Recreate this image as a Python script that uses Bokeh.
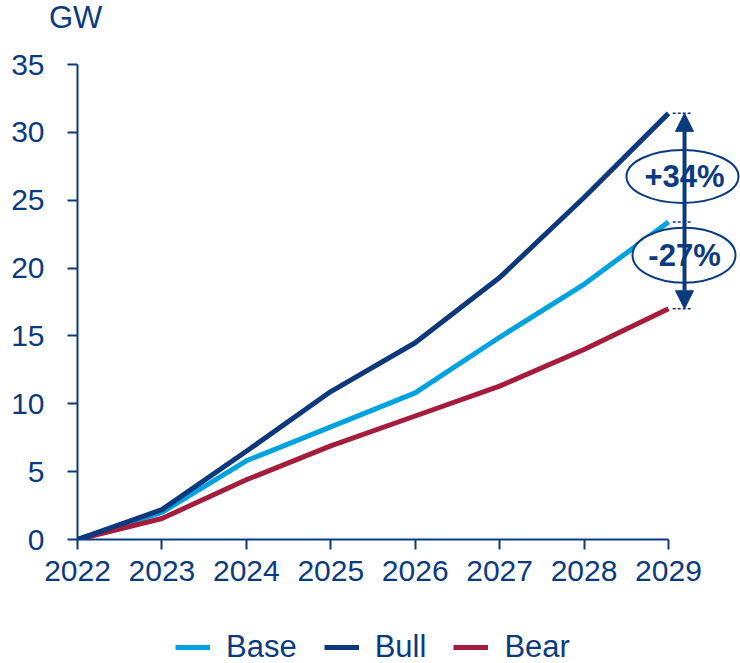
from bokeh.plotting import figure
from bokeh.layouts import column
from bokeh.models import (Range1d, FixedTicker, Legend, LegendItem, Div,
                          Arrow, NormalHead, ColumnDataSource)
from bokeh.core.properties import value
from bokeh.embed import file_html
from bokeh.resources import INLINE

# ---- data ----
years = [2022, 2023, 2024, 2025, 2026, 2027, 2028, 2029]
year_labels = ["2022", "2023", "2024", "2025", "2026", "2027", "2028", "2029"]
base = [0.0, 2.0, 5.8, 8.3, 10.8, 14.9, 18.8, 23.4]
bull = [0.0, 2.2, 6.5, 10.9, 14.5, 19.3, 25.2, 31.4]
bear = [0.0, 1.55, 4.4, 6.9, 9.1, 11.3, 14.0, 17.0]
y_ticks = [0, 5, 10, 15, 20, 25, 30, 35]
series_names = ["Base", "Bull", "Bear"]
unit_label = "GW"
bull_label = "+34%"
bear_label = "-27%"

NAVY = "#0B3B7F"
BULL_C = "#0C397C"
BASE_C = "#00A3E0"
BEAR_C = "#A51C3C"
FONT = "Liberation Sans"

# ---- unit label ----
top = Div(text=unit_label, width=740, height=40,
          styles={"font-family": FONT, "font-size": "31px", "color": NAVY,
                  "line-height": "36px", "padding-left": "49px", "margin": "0"})

# ---- main chart ----
p = figure(width=740, height=580, output_backend="svg", toolbar_location=None,
           x_range=Range1d(2022, 2029.853), y_range=Range1d(0, 35),
           min_border_left=77, min_border_right=0, min_border_top=24,
           min_border_bottom=81)
p.outline_line_color = None
p.xgrid.visible = False
p.ygrid.visible = False
p.background_fill_color = "white"
p.border_fill_color = "white"

for ax in (p.xaxis[0], p.yaxis[0]):
    ax.axis_line_color = NAVY
    ax.axis_line_width = 2
    ax.major_tick_line_color = NAVY
    ax.major_tick_line_width = 2
    ax.major_tick_out = 10
    ax.major_tick_in = 0
    ax.minor_tick_line_color = None
    ax.major_label_text_color = NAVY
    ax.major_label_text_font = FONT
    ax.major_label_text_font_size = "30px"

p.xaxis.ticker = FixedTicker(ticks=years)
p.xaxis.major_label_overrides = {y: l for y, l in zip(years, year_labels)}
p.xaxis.bounds = (years[0], years[-1])
p.xaxis.major_label_standoff = 11
p.yaxis.ticker = FixedTicker(ticks=y_ticks)
p.yaxis.major_label_standoff = 23

src = ColumnDataSource(dict(x=years, base=base, bull=bull, bear=bear))
p.line("x", "base", source=src, line_color=BASE_C, line_width=5)
p.line("x", "bear", source=src, line_color=BEAR_C, line_width=5)
p.line("x", "bull", source=src, line_color=BULL_C, line_width=5)

# dashed markers at end values
ax_x = years[-1] + 0.19
ends = [bull[-1], base[-1], bear[-1]]
p.segment(x0=[years[-1] + 0.05] * 3, x1=[years[-1] + 0.28] * 3, y0=ends, y1=ends,
          line_color=NAVY, line_width=1.5, line_dash="3 2")

# arrows
for target in (bull[-1], bear[-1]):
    p.add_layout(Arrow(end=NormalHead(size=18, fill_color=NAVY, line_color=NAVY),
                       x_start=ax_x, y_start=base[-1], x_end=ax_x, y_end=target,
                       line_color=NAVY, line_width=4))

# ellipses with labels
e1y = (bull[-1] + base[-1]) / 2 - 0.65
e2y = (base[-1] + bear[-1]) / 2 + 0.75
p.ellipse(x=[years[-1] + 0.166], y=[e1y], width=112 / 84.43, height=53 / 13.57,
          fill_color="white", line_color=NAVY, line_width=2)
p.ellipse(x=[years[-1] + 0.184], y=[e2y], width=103 / 84.43, height=55 / 13.57,
          fill_color="white", line_color=NAVY, line_width=2)
p.text(x=[years[-1] + 0.19, years[-1] + 0.19], y=[e1y, e2y], text=[bull_label, bear_label],
       text_align="center", text_baseline="middle", text_color=NAVY,
       text_font=value(FONT), text_font_style="bold", text_font_size="31px")

# ---- legend strip ----
lg = figure(width=740, height=43, output_backend="svg", toolbar_location=None,
            x_range=Range1d(0, 1), y_range=Range1d(0, 1),
            x_axis_type=None, y_axis_type=None,
            min_border_left=0, min_border_right=0, min_border_top=0, min_border_bottom=0)
lg.outline_line_color = None
lg.xgrid.visible = False
lg.ygrid.visible = False
lg.background_fill_color = "white"
lg.border_fill_color = "white"
rs = [lg.line(x=[-5, -4], y=[-5, -4], line_color=c, line_width=5)
      for c in (BASE_C, BULL_C, BEAR_C)]
legend = Legend(items=[LegendItem(label=n, renderers=[r]) for n, r in zip(series_names, rs)],
                location=(98, -2), orientation="horizontal",
                label_text_font=FONT, label_text_font_size="31px",
                label_text_color=NAVY, glyph_width=35, glyph_height=20,
                label_standoff=16, spacing=27, padding=0, margin=0,
                border_line_color=None, background_fill_alpha=0)
lg.add_layout(legend, "center")

layout = column(top, p, lg, spacing=0)
open("out.html", "w").write(file_html(layout, INLINE))
